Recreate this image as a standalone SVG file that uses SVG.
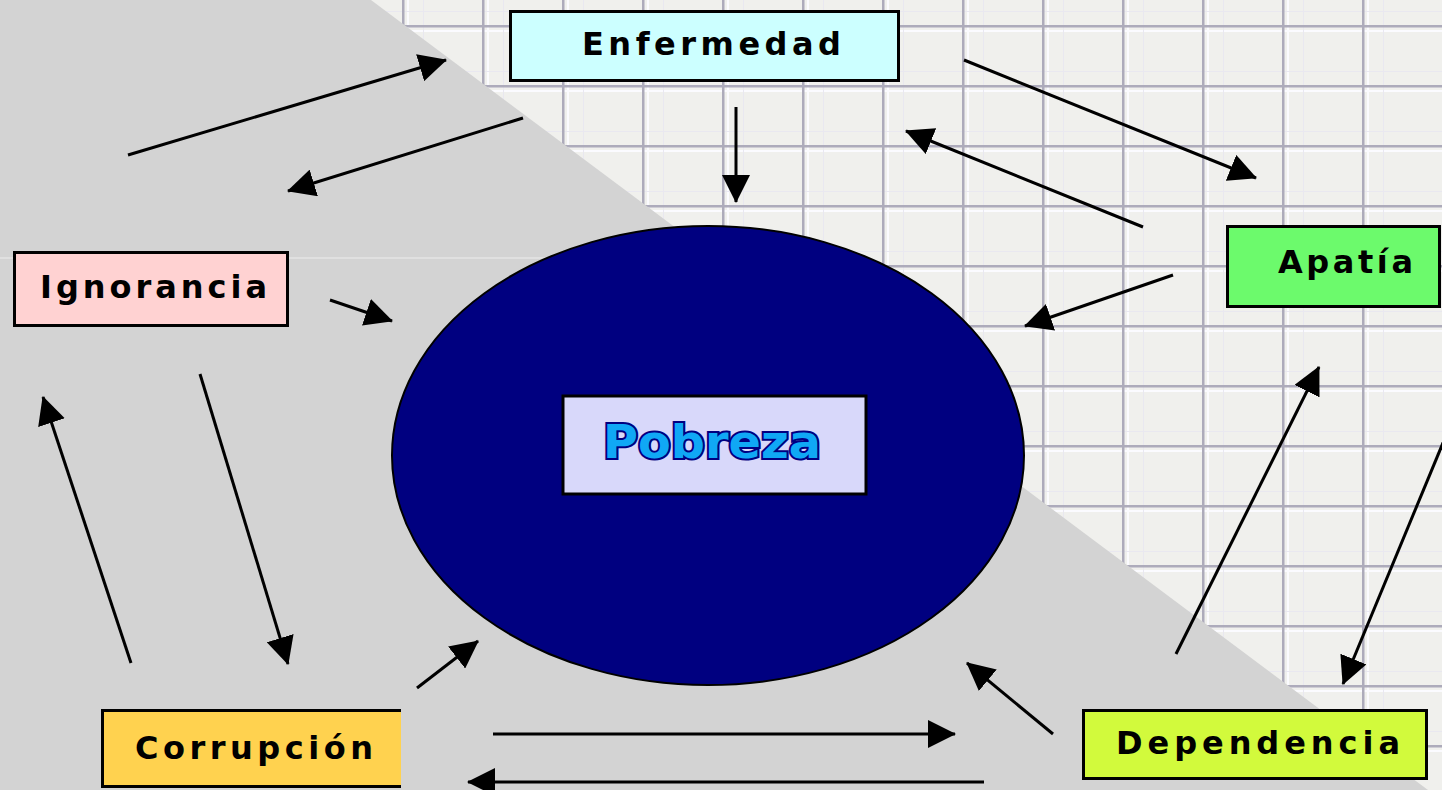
<svg xmlns="http://www.w3.org/2000/svg" width="1442" height="790" viewBox="0 0 1442 790">
<style>
.box{stroke:#000;stroke-width:3}
.lbl{font-family:"DejaVu Sans","Liberation Sans",Arial,sans-serif;font-weight:bold;font-size:32px;fill:#000}
.conn{stroke:#000;stroke-width:3;fill:none;marker-end:url(#ah)}
</style>
<defs>
<pattern id="grid" patternUnits="userSpaceOnUse" x="3" y="26" width="80" height="60">
<rect x="0" y="0" width="80" height="60" fill="#f0f0ed"/>
<rect x="4" y="0" width="2" height="60" fill="#fbfbff"/>
<rect x="0" y="4" width="80" height="2" fill="#fbfbff"/>
<rect x="20" y="0" width="1" height="60" fill="#e9e8f0"/>
<rect x="0" y="45" width="80" height="1" fill="#e9e8f0"/>
<rect x="-1" y="0" width="2.5" height="60" fill="#adabbb"/>
<rect x="79" y="0" width="2.5" height="60" fill="#adabbb"/>
<rect x="0" y="-1" width="80" height="2.5" fill="#adabbb"/>
<rect x="0" y="59" width="80" height="2.5" fill="#adabbb"/>
</pattern>
<marker id="ah" markerUnits="userSpaceOnUse" viewBox="0 0 28 28" refX="27" refY="14" markerWidth="28" markerHeight="28" orient="auto">
<path d="M0,0 L28,14 L0,28 Z" fill="#000"/>
</marker>
</defs>

<g id="background">
<rect x="0" y="0" width="1442" height="790" fill="url(#grid)"/>
<polygon points="0,0 371,0 1428,790 0,790" fill="#d3d3d3"/>
<line x1="0" y1="258" x2="670" y2="258" stroke="#e0e0e0" stroke-width="2"/>
</g>

<g id="node-pobreza">
<ellipse cx="708" cy="455.5" rx="316" ry="229.5" fill="#000080" stroke="#000" stroke-width="2"/>
<rect x="563" y="396" width="303" height="98" fill="#d8d8fa" stroke="#000" stroke-width="3"/>
<text x="603" y="458" font-family="'DejaVu Sans','Liberation Sans',Arial,sans-serif" font-weight="bold" font-size="46" fill="#10a8f5" stroke="#000080" stroke-width="4" paint-order="stroke" textLength="218" lengthAdjust="spacingAndGlyphs">Pobreza</text>
</g>

<g id="node-enfermedad">
<rect class="box" x="510.5" y="11.5" width="388" height="69" fill="#ccffff"/>
<text class="lbl" x="582" y="55" textLength="259" lengthAdjust="spacing">Enfermedad</text>
</g>

<g id="node-ignorancia">
<rect class="box" x="14.5" y="252.5" width="273" height="73" fill="#ffd2d2"/>
<text class="lbl" x="40" y="298" textLength="227" lengthAdjust="spacing">Ignorancia</text>
</g>

<g id="node-apatia">
<rect class="box" x="1227.5" y="226.5" width="212" height="80" fill="#6cfa6c"/>
<text class="lbl" x="1278" y="273" textLength="135" lengthAdjust="spacing">Apatía</text>
</g>

<g id="node-corrupcion">
<rect x="101" y="709" width="300" height="79" fill="#ffd24f"/>
<path d="M401,710.5 H102.5 V786.5 H401" fill="none" stroke="#000" stroke-width="3"/>
<text class="lbl" x="135" y="759" textLength="238" lengthAdjust="spacing">Corrupción</text>
</g>

<g id="node-dependencia">
<rect class="box" x="1083.5" y="710.5" width="343" height="68" fill="#d2fa3c"/>
<text class="lbl" x="1116" y="754" textLength="284" lengthAdjust="spacing">Dependencia</text>
</g>

<g id="connectors">
<line class="conn" x1="128" y1="155" x2="446" y2="60"/>
<line class="conn" x1="523" y1="118" x2="288" y2="191"/>
<line class="conn" x1="736" y1="107" x2="736" y2="202"/>
<line class="conn" x1="964" y1="60" x2="1256" y2="178"/>
<line class="conn" x1="1143" y1="227" x2="906" y2="131"/>
<line class="conn" x1="1173" y1="275" x2="1025" y2="326"/>
<line class="conn" x1="330" y1="300" x2="392" y2="321"/>
<line class="conn" x1="200" y1="374" x2="288" y2="664"/>
<line class="conn" x1="131" y1="663" x2="43" y2="397"/>
<line class="conn" x1="417" y1="688" x2="478" y2="641"/>
<line class="conn" x1="493" y1="734" x2="955" y2="734"/>
<line class="conn" x1="984" y1="782" x2="468" y2="782"/>
<line class="conn" x1="1053" y1="734" x2="967" y2="663"/>
<line class="conn" x1="1176" y1="654" x2="1319" y2="367"/>
<line class="conn" x1="1445" y1="438" x2="1343" y2="684"/>
</g>
</svg>
